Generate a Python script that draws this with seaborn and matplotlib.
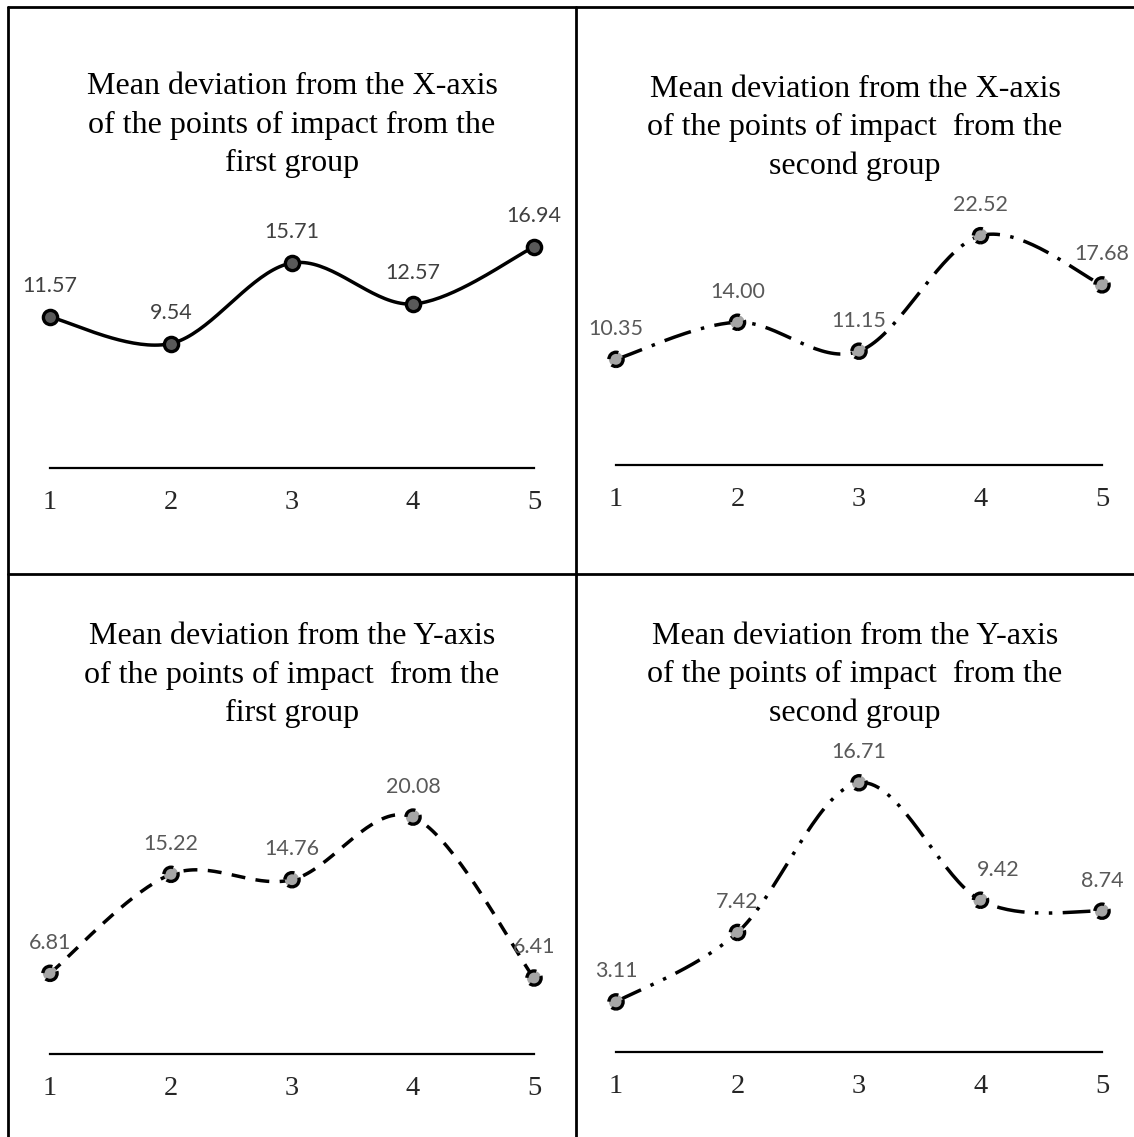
"""Mean deviation of the points of impact, four small panels in a table grid."""

import numpy as np
import pandas as pd
import matplotlib

matplotlib.use("Agg")

import matplotlib.pyplot as plt
import seaborn as sns
from matplotlib.lines import Line2D

# data
shots = [1, 2, 3, 4, 5]
x_dev_first = [11.57, 9.54, 15.71, 12.57, 16.94]
x_dev_second = [10.35, 14.00, 11.15, 22.52, 17.68]
y_dev_first = [6.81, 15.22, 14.76, 20.08, 6.41]
y_dev_second = [3.11, 7.42, 16.71, 9.42, 8.74]

titles = [
    "Mean deviation from the X-axis\nof the points of impact from the\nfirst group",
    "Mean deviation from the X-axis\nof the points of impact  from the\nsecond group",
    "Mean deviation from the Y-axis\nof the points of impact  from the\nfirst group",
    "Mean deviation from the Y-axis\nof the points of impact  from the\nsecond group",
]

W, H = 1134, 1137
DPI = 100

sns.set_style("white")
plt.rcParams["font.family"] = ["Liberation Serif", "DejaVu Serif"]


def smooth(xs, ys, n=40):
    """Bezier smoothing through the points, like a spreadsheet 'smoothed line'."""
    pts = np.column_stack([xs, ys]).astype(float)
    ext = np.vstack([pts[0], pts, pts[-1]])
    out = []
    t = np.linspace(0, 1, n)[:, None]
    for i in range(len(pts) - 1):
        p0, p3 = ext[i + 1], ext[i + 2]
        c1 = p0 + (ext[i + 2] - ext[i]) / 6
        c2 = p3 - (ext[i + 3] - ext[i + 1]) / 6
        seg = ((1 - t) ** 3) * p0 + 3 * ((1 - t) ** 2) * t * c1 + 3 * (1 - t) * t ** 2 * c2 + t ** 3 * p3
        out.append(seg if i == 0 else seg[1:])
    seg = np.vstack(out)
    return pd.DataFrame({"shot": seg[:, 0], "value": seg[:, 1]})


def px_axes(fig, left, right, bottom, top):
    return fig.add_axes([left / W, 1 - bottom / H, (right - left) / W, (bottom - top) / H])


def draw_panel(ax, values, ymax, line_style, marker_fill, marker_edge_style, label_color, label_dx):
    curve = smooth(shots, values)
    sns.lineplot(
        data=curve, x="shot", y="value", ax=ax, sort=False, estimator=None,
        color="black", linewidth=2.5, linestyle=line_style, clip_on=False, zorder=2,
    )
    sns.scatterplot(
        x=shots, y=values, ax=ax, s=105, color=marker_fill, edgecolor="black",
        linewidth=2.4, linestyle=marker_edge_style, clip_on=False, zorder=3,
    )
    for x, v, dx in zip(shots, values, label_dx):
        ax.annotate(
            f"{v:.2f}", (x, v), xytext=(dx, 22), textcoords="offset points",
            ha="center", va="center", fontsize=15.5, color=label_color,
            family=["Lato", "DejaVu Sans"], annotation_clip=False,
        )
    ax.set_xlim(1, 5)
    ax.set_ylim(0, ymax)
    ax.set_xticks(shots)
    ax.set_xticklabels([str(s) for s in shots], fontsize=20.5)
    ax.set_yticks([])
    ax.set_xlabel("")
    ax.set_ylabel("")
    ax.tick_params(axis="x", length=0, pad=16)
    for side in ["top", "left", "right"]:
        ax.spines[side].set_visible(False)
    ax.spines["bottom"].set_color("black")
    ax.spines["bottom"].set_linewidth(1.6)
    ax.patch.set_alpha(0)


fig = plt.figure(figsize=(W / DPI, H / DPI), dpi=DPI)

ax_tl = px_axes(fig, 50, 534, 468, 207)
ax_tr = px_axes(fig, 616, 1102, 464.5, 210.5)
ax_bl = px_axes(fig, 50, 534, 1053.5, 794.5)
ax_br = px_axes(fig, 616, 1102, 1052, 762)

draw_panel(ax_tl, x_dev_first, 20, "-", "#595959", "-", "#404040", [0, 0, 0, 0, 0])
draw_panel(ax_tr, x_dev_second, 25, (0, (8, 3, 1, 3)), "#a6a6a6", (0, (4, 2)), "#595959", [0, 0, 0, 0, 0])
draw_panel(ax_bl, y_dev_first, 22, (0, (4, 3)), "#a6a6a6", (0, (4, 2)), "#595959", [0, 0, 0, 0, 0])
draw_panel(ax_br, y_dev_second, 18, (0, (8, 3, 1, 3, 1, 3)), "#a6a6a6", (0, (4, 2)), "#595959", [0, 0, 0, 13, 0])

title_pos = [(292, 125), (855, 128), (292, 675), (855, 675)]
for (tx, ty), title in zip(title_pos, titles):
    fig.text(tx / W, 1 - ty / H, title, ha="center", va="center", fontsize=23,
             linespacing=1.42, color="black")

# table grid around the panels
grid = [
    ((8, 7), (W, 7)),
    ((8, 7), (8, H)),
    ((576, 7), (576, H)),
    ((8, 574), (W, 574)),
]
for (x0, y0), (x1, y1) in grid:
    fig.add_artist(Line2D([x0 / W, x1 / W], [1 - y0 / H, 1 - y1 / H],
                          transform=fig.transFigure, color="black", linewidth=2))

fig.savefig("out.png", dpi=DPI)
plt.close(fig)
